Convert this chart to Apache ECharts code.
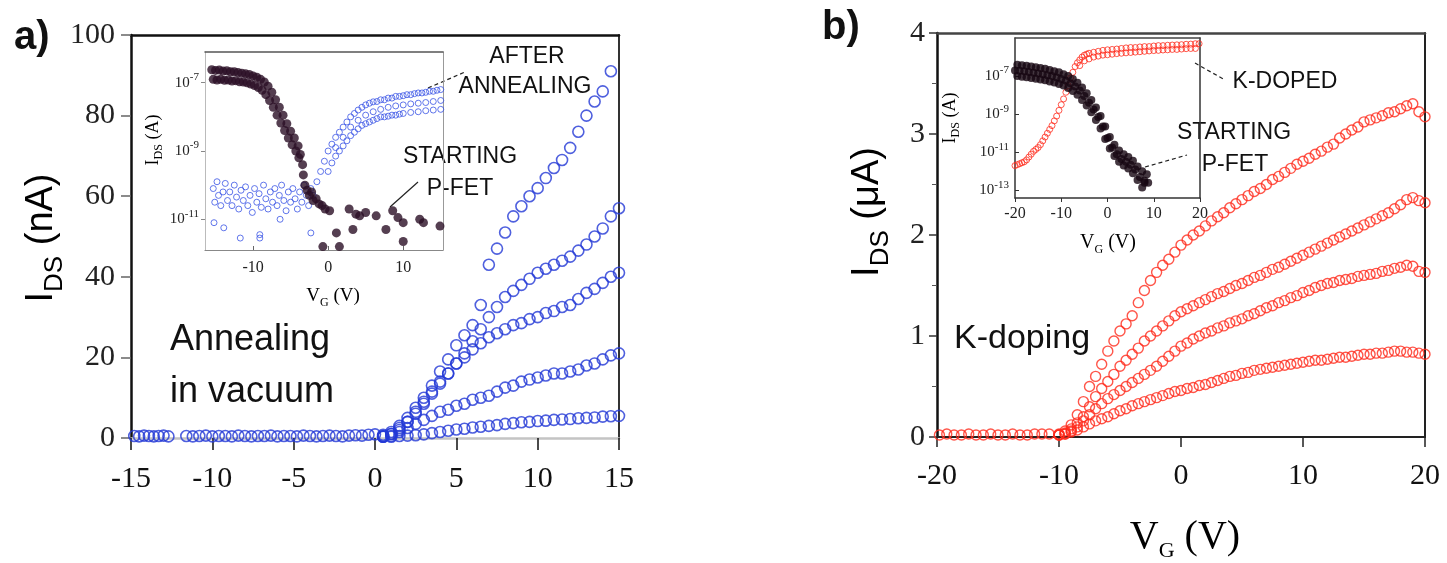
<!DOCTYPE html>
<html>
<head>
<meta charset="utf-8">
<script src="https://cdn.jsdelivr.net/npm/echarts@6/dist/echarts.min.js"></script>
<style>
  html, body { margin: 0; padding: 0; background: #fff; }
  #chart { width: 1447px; height: 563px; }
</style>
</head>
<body>
<div id="chart"></div>
<script>
// ---- panel a: annealing in vacuum (main plot, nA) ----
const vgFlatA = [-14.8,-14.5,-14.2,-13.9,-13.6,-13.3,-13.0,-12.7,-11.6,-11.2,-10.8,-10.4,-10.0,-9.6,-9.2,-8.8,-8.4,-8.0,-7.6,-7.2,-6.8,-6.4,-6.0,-5.6,-5.2,-4.8,-4.4,-4.0,-3.6,-3.2,-2.8,-2.4,-2.0,-1.6,-1.2,-0.8,-0.4,0];
const iFlatA  = [0.5,0.4,0.6,0.5,0.4,0.5,0.6,0.4,0.5,0.4,0.5,0.6,0.4,0.5,0.5,0.4,0.6,0.5,0.4,0.5,0.5,0.6,0.4,0.5,0.5,0.4,0.6,0.5,0.4,0.5,0.6,0.5,0.4,0.6,0.7,0.6,0.8,0.9];

const vgA = [0.5,1,1.5,2,2.5,3,3.5,4,4.5,5,5.5,6,6.5,7,7.5,8,8.5,9,9.5,10,10.5,11,11.5,12,12.5,13,13.5,14,14.5,15];
const iA1 = [0.8,1.5,3,5,7.5,10,13,16.5,19.5,23,25.5,28,33,43,47,51,55,57.5,60,62,64.5,67,69,72,76,80,83.5,86,91,null];
const iA2 = [0.5,1,2.5,4,6,8.5,11,13.5,16,18.5,21,24,27,30,32.5,35,36.5,38,39.5,41,42,43,44,45,46.5,48,50,52,55,57];
const iA3 = [0.4,1,2,4,6.5,9,11.5,14,16,18.5,20,22,23.5,25,26,27,28,28.5,29.5,30,31,31.5,32.5,33,34.5,36,37,38.5,40,41];
const iA4 = [0.3,0.5,1.5,2.5,3.5,4.5,5.5,6.5,7,8,8.5,9.5,10,10.5,11.5,12.5,13,14,14.5,15,15.5,16,16,16.5,17,18,18.5,19.5,20.5,21];
const iA5 = [0.3,0.3,0.5,0.6,0.7,0.9,1.2,1.5,1.8,2.1,2.3,2.6,2.8,3.0,3.2,3.5,3.7,3.9,4.0,4.2,4.3,4.5,4.6,4.7,4.9,5.0,5.1,5.3,5.4,5.5];

// ---- panel b: K-doping (main plot, uA) ----
const vgFlatB = [-19.8,-19.2,-18.6,-18.0,-17.4,-16.8,-16.2,-15.6,-15.0,-14.4,-13.8,-13.2,-12.6,-12.0,-11.4,-10.8];
const iFlatB  = [0.02,0.03,0.02,0.02,0.03,0.02,0.02,0.03,0.02,0.02,0.03,0.02,0.02,0.03,0.03,0.03];

const vgB = [-10,-9.5,-9,-8.5,-8,-7.5,-7,-6.5,-6,-5.5,-5,-4.5,-4,-3.5,-3,-2.5,-2,-1.5,-1,-0.5,
  0,0.5,1,1.5,2,2.5,3,3.5,4,4.5,5,5.5,6,6.5,7,7.5,8,8.5,9,9.5,
  10,10.5,11,11.5,12,12.5,13,13.5,14,14.5,15,15.5,16,16.5,17,17.5,18,18.5,19,19.5,20];
const iB1 = [0.03,0.06,0.12,0.22,0.35,0.5,0.6,0.72,0.85,0.95,1.05,1.12,1.2,1.33,1.45,1.55,1.63,1.7,1.76,1.83,
  1.9,1.95,2.0,2.04,2.09,2.14,2.18,2.22,2.27,2.31,2.35,2.39,2.43,2.46,2.5,2.55,2.58,2.62,2.66,2.7,
  2.73,2.76,2.8,2.83,2.87,2.9,2.96,3.0,3.04,3.07,3.12,3.14,3.16,3.18,3.21,3.22,3.25,3.28,3.3,3.22,3.17];
const iB2 = [0.02,0.04,0.08,0.14,0.2,0.3,0.4,0.48,0.55,0.62,0.7,0.76,0.82,0.88,0.95,1.0,1.05,1.1,1.15,1.2,
  1.24,1.27,1.3,1.33,1.36,1.39,1.42,1.44,1.47,1.5,1.52,1.55,1.58,1.6,1.63,1.66,1.68,1.71,1.74,1.77,
  1.8,1.83,1.86,1.89,1.92,1.95,1.98,2.01,2.04,2.07,2.1,2.13,2.16,2.19,2.22,2.26,2.3,2.35,2.37,2.34,2.32];
const iB3 = [0.02,0.03,0.06,0.1,0.16,0.22,0.28,0.33,0.38,0.42,0.46,0.5,0.54,0.58,0.62,0.66,0.7,0.75,0.8,0.85,
  0.9,0.93,0.97,1.0,1.03,1.05,1.08,1.1,1.13,1.15,1.17,1.2,1.22,1.25,1.28,1.3,1.33,1.35,1.38,1.4,
  1.43,1.45,1.48,1.5,1.52,1.53,1.55,1.56,1.57,1.59,1.6,1.61,1.62,1.64,1.65,1.67,1.68,1.7,1.69,1.64,1.63];
const iB4 = [0.02,0.03,0.05,0.07,0.1,0.13,0.16,0.18,0.2,0.23,0.26,0.28,0.31,0.33,0.35,0.37,0.39,0.41,0.43,0.45,
  0.46,0.48,0.49,0.51,0.52,0.54,0.56,0.58,0.6,0.61,0.63,0.64,0.66,0.67,0.68,0.69,0.7,0.71,0.72,0.73,
  0.74,0.75,0.76,0.76,0.77,0.78,0.79,0.79,0.8,0.81,0.82,0.82,0.83,0.83,0.84,0.85,0.85,0.84,0.84,0.83,0.82];

// ---- inset a: log10(I_DS / A) vs V_G ----
const insetAStart = [
  [-15.5,-6.62],[-15,-6.64],[-14.5,-6.63],[-14,-6.66],[-13.5,-6.65],[-13,-6.68],[-12.5,-6.68],[-12,-6.7],[-11.5,-6.72],[-11,-6.74],
  [-10.5,-6.76],[-10,-6.8],[-9.5,-6.84],[-9,-6.9],[-8.5,-6.98],[-8,-7.1],[-7.5,-7.28],[-7,-7.5],[-6.5,-7.72],[-6,-7.95],
  [-5.5,-8.2],[-5,-8.42],[-4.5,-8.62],[-4,-8.85],[-3.7,-9.1],[-3.4,-9.4],[-3.3,-9.7],[-3.1,-10.0],
  [-15.3,-6.9],[-14.8,-6.92],[-14.3,-6.9],[-13.8,-6.93],[-13.3,-6.92],[-12.8,-6.95],[-12.3,-6.94],[-11.8,-6.97],[-11.3,-6.98],[-10.8,-7.0],
  [-10.3,-7.04],[-9.8,-7.08],[-9.3,-7.14],[-8.8,-7.22],[-8.3,-7.35],[-7.8,-7.52],[-7.3,-7.72],[-6.8,-7.95],[-6.3,-8.18],[-5.8,-8.4],
  [-5.3,-8.62],[-4.8,-8.82],[-4.3,-9.0],[-3.9,-9.2],
  [-2.8,-10.15],[-2.5,-10.3],[-2.2,-10.2],[-2,-10.45],[-1.6,-10.4],[-1.2,-10.55],[-0.8,-10.6],[-0.4,-10.7],[0.2,-10.75],[-0.7,-11.8],
  [1.1,-11.4],[1.5,-11.8],[2.8,-10.7],[3.3,-11.3],[3.7,-10.85],[4.2,-10.9],[5,-10.8],[6.4,-10.9],[7.7,-11.3],[8.6,-10.75],
  [9.3,-10.95],[10,-11.1],[10,-11.65],[12.2,-11.0],[12.7,-11.1],[14.9,-11.2]
];
const insetAAnneal = [
  [-15.3,-10.1],[-15.1,-10.5],[-14.8,-9.9],[-14.6,-10.3],[-14.3,-10.6],[-14,-10.2],[-13.7,-9.95],[-13.4,-10.45],[-13.1,-10.2],[-12.8,-10.6],
  [-12.5,-10.0],[-12.2,-10.35],[-11.9,-10.7],[-11.6,-10.15],[-11.3,-10.45],[-11,-10.05],[-10.7,-10.6],[-10.4,-10.3],[-10.1,-10.8],[-9.8,-10.1],
  [-9.5,-10.5],[-9.2,-10.25],[-8.9,-10.65],[-8.6,-10.0],[-8.3,-10.4],[-8,-10.7],[-7.7,-10.2],[-7.4,-10.5],[-7.1,-10.1],[-6.8,-10.6],
  [-6.5,-10.3],[-6.2,-10.0],[-5.9,-10.45],[-5.6,-10.75],[-5.3,-10.2],[-5,-10.5],[-4.7,-10.1],[-4.4,-10.4],[-4.1,-10.7],[-3.8,-10.2],
  [-3.5,-10.5],[-3.2,-10.0],[-2.9,-10.3],[-2.6,-10.6],[-2.3,-10.1],
  [-15.2,-11.1],[-13.9,-11.25],[-11.7,-11.55],[-9.1,-11.55],[-9.1,-11.45],[-2.3,-11.4],[-6.4,-11.0],
  [-2,-10.3],[-1.5,-9.9],[-1,-9.6],[-0.5,-9.3],[0,-9.0],[0.5,-8.8],[1,-8.6],[1.5,-8.45],[2,-8.3],[2.5,-8.15],
  [3,-8.0],[3.5,-7.9],[4,-7.8],[4.5,-7.72],[5,-7.65],[5.5,-7.6],[6,-7.56],[6.5,-7.55],[7,-7.5],[7.5,-7.5],
  [8,-7.45],[8.5,-7.45],[9,-7.4],[9.5,-7.4],[10,-7.38],[10.5,-7.35],[11,-7.35],[11.5,-7.32],[12,-7.3],[12.5,-7.3],
  [13,-7.28],[13.5,-7.25],[14,-7.25],[14.5,-7.22],[15,-7.2],
  [0,-9.6],[0.5,-9.35],[1,-9.15],[1.5,-9.0],[2,-8.85],[2.5,-8.7],[3,-8.55],[3.5,-8.45],[4,-8.35],[4.5,-8.25],
  [5,-8.2],[5.5,-8.15],[6,-8.1],[6.5,-8.05],[7,-8.0],[7.5,-8.0],[8,-7.98],[8.5,-7.95],[9,-7.95],[9.5,-7.92],
  [10,-7.9],[11,-7.87],[12,-7.85],[13,-7.82],[14,-7.8],[15,-7.78],
  [1,-8.9],[2,-8.6],[3,-8.3],[4,-8.1],[5,-7.95],[6,-7.85],[7,-7.78],[8,-7.72],[9,-7.68],[10,-7.65],
  [11,-7.62],[12,-7.6],[13,-7.58],[14,-7.55],[15,-7.52]
];

// ---- inset b: log10(I_DS / A) vs V_G ----
const insetBStart = [
  [-20,-6.7],[-19,-6.72],[-18,-6.75],[-17,-6.78],[-16,-6.82],[-15,-6.86],[-14,-6.9],[-13,-6.95],[-12,-7.0],[-11,-7.08],
  [-10,-7.15],[-9,-7.25],[-8,-7.38],[-7,-7.55],[-6,-7.75],[-5,-8.05],[-4,-8.4],[-3,-8.75],[-2,-9.15],[-1,-9.65],
  [0,-10.25],[1,-10.75],[2,-11.1],[3,-11.35],[4,-11.5],[5,-11.65],[6,-11.9],[7,-12.3],[8,-12.5],[8.8,-12.6],
  [-19.5,-6.4],[-18.5,-6.43],[-17.5,-6.46],[-16.5,-6.5],[-15.5,-6.54],[-14.5,-6.58],[-13.5,-6.62],[-12.5,-6.68],[-11.5,-6.74],[-10.5,-6.8],
  [-9.5,-6.9],[-8.5,-7.0],[-7.5,-7.15],[-6.5,-7.35],[-5.5,-7.6],[-4.5,-7.9],[-3.5,-8.25],[-2.5,-8.65],[-1.5,-9.1],[-0.5,-9.65],
  [0.5,-10.2],[1.5,-10.6],[2.5,-10.9],[3.5,-11.1],[4.5,-11.25],[5.5,-11.45],[6.5,-11.75],[7.5,-12.0],[8.5,-12.15],
  [-19.5,-7.0],[-18.5,-7.03],[-17.5,-7.06],[-16.5,-7.1],[-15.5,-7.14],[-14.5,-7.18],[-13.5,-7.22],[-12.5,-7.28],[-11.5,-7.34],[-10.5,-7.42],
  [-9.5,-7.5],[-8.5,-7.62],[-7.5,-7.78],[-6.5,-7.98],[-5.5,-8.25],[-4.5,-8.55],[-3.5,-8.9],[-2.5,-9.3],[-1.5,-9.75],[-0.5,-10.3],
  [0.5,-10.8],[1.5,-11.2],[2.5,-11.5],[3.5,-11.7],[4.5,-11.85],[5.5,-12.1],[6.5,-12.45],[7.5,-12.85],[8,-12.6]
];
const insetBDoped = [
  [-20,-11.7],[-19.5,-11.65],[-19,-11.6],[-18.5,-11.55],[-18,-11.5],[-17.5,-11.4],[-17,-11.25],[-16.5,-11.1],[-16,-10.95],[-15.5,-10.85],
  [-15,-10.75],[-14.5,-10.6],[-14,-10.4],[-13.5,-10.2],[-13,-10.0],[-12.5,-9.8],[-12,-9.6],[-11.5,-9.35],[-11,-9.1],[-10.5,-8.8],
  [-10,-8.5],[-9.5,-8.2],[-9,-7.85],[-8.5,-7.5],[-8,-7.1],[-7.5,-6.8],[-7,-6.5],[-6.5,-6.3],[-6,-6.15],[-5.5,-6.0],
  [-5,-5.9],[-4.5,-5.85],[-4,-5.8],[-3,-5.75],[-2,-5.7],[-1,-5.65],[0,-5.62],[1,-5.6],[2,-5.58],[3,-5.55],
  [4,-5.52],[5,-5.5],[6,-5.5],[7,-5.47],[8,-5.45],[9,-5.45],[10,-5.42],[11,-5.4],[12,-5.4],[13,-5.38],
  [14,-5.37],[15,-5.36],[16,-5.35],[17,-5.33],[18,-5.32],[19,-5.3],[19.8,-5.3],
  [-6,-6.45],[-5,-6.2],[-4,-6.1],[-3,-6.0],[-2,-5.95],[-1,-5.9],[0,-5.88],[1,-5.85],[2,-5.82],[3,-5.8],
  [4,-5.78],[5,-5.76],[6,-5.74],[7,-5.72],[8,-5.7],[9,-5.68],[10,-5.66],[11,-5.65],[12,-5.63],[13,-5.62],
  [14,-5.6],[15,-5.6],[16,-5.58],[17,-5.56],[18,-5.55],[19,-5.55]
];

const insetTicksA = [-11, -9, -7];
const insetTicksB = [-13, -11, -9, -7];

const BLUE = '#2338d6';
const RED = '#ff2b1c';
const DARK = '#2a0f25';
const SERIF = 'Liberation Serif';
const SANS = 'Liberation Sans';

function pairs(xs, ys) {
  const out = [];
  xs.forEach((x, i) => {
    if (ys[i] !== null && ys[i] !== undefined) out.push([x, ys[i]]);
  });
  return out;
}

function openCircles(name, data, color, size, xi, yi, bw) {
  return {
    name: name, type: 'scatter', xAxisIndex: xi, yAxisIndex: yi,
    data: data, symbol: 'circle', symbolSize: size, silent: true,
    itemStyle: { color: 'rgba(0,0,0,0)', borderColor: color, borderWidth: bw }
  };
}

function helperAxis(grid, pos, color, width) {
  return {
    type: 'value', gridIndex: grid, position: pos, min: 0, max: 1,
    axisLine: { show: true, onZero: false, lineStyle: { color: color, width: width } },
    axisTick: { show: false }, axisLabel: { show: false }, splitLine: { show: false }
  };
}

const supRich = {
  b: { fontFamily: SERIF, fontSize: 15, color: '#222', lineHeight: 22 },
  s: { fontFamily: SERIF, fontSize: 11, color: '#222', lineHeight: 11, verticalAlign: 'top' }
};
const logFmt = v => '{b|10}{s|' + v + '}';

const chart = echarts.init(document.getElementById('chart'));

const option = {
  backgroundColor: '#fff',
  animation: false,
  grid: [
    { left: 131, top: 35, width: 488, height: 403, outerBoundsMode: 'none' },
    { left: 937, top: 33, width: 488, height: 404, outerBoundsMode: 'none' },
    { left: 205, top: 52, width: 238, height: 198, outerBoundsMode: 'none' },
    { left: 1015, top: 38, width: 185, height: 160, outerBoundsMode: 'none' }
  ],
  xAxis: [
    {
      type: 'value', gridIndex: 0, min: -15, max: 15, interval: 5,
      axisLine: { onZero: false, lineStyle: { color: '#c4c4c4', width: 2.5 } },
      axisTick: { length: 12, lineStyle: { color: '#111', width: 1.5 } },
      axisLabel: { fontFamily: SERIF, fontSize: 30, color: '#111', margin: 26 },
      splitLine: { show: false }
    },
    helperAxis(0, 'top', '#111', 2.5),
    {
      type: 'value', gridIndex: 1, min: -20, max: 20, interval: 10,
      axisLine: { onZero: false, lineStyle: { color: '#222', width: 2 } },
      axisTick: { length: 10, lineStyle: { color: '#222', width: 1.5 } },
      axisLabel: { fontFamily: SERIF, fontSize: 30, color: '#111', margin: 24 },
      splitLine: { show: false }
    },
    helperAxis(1, 'top', '#444', 2.5),
    {
      type: 'value', gridIndex: 2, min: -16.4, max: 15.3,
      axisLine: { onZero: false, lineStyle: { color: '#888', width: 1.2 } },
      axisTick: { inside: true, length: 4, customValues: [-10, 0, 10], lineStyle: { color: '#666' } },
      axisLabel: { fontFamily: SERIF, fontSize: 16, color: '#222', margin: 10, customValues: [-10, 0, 10] },
      splitLine: { show: false }
    },
    helperAxis(2, 'top', '#555', 1.5),
    {
      type: 'value', gridIndex: 3, min: -20, max: 20, interval: 10,
      axisLine: { onZero: false, lineStyle: { color: '#333', width: 1.5 } },
      axisTick: { length: 4, lineStyle: { color: '#333' } },
      axisLabel: { fontFamily: SERIF, fontSize: 16, color: '#222', margin: 8 },
      splitLine: { show: false }
    },
    helperAxis(3, 'top', '#444', 1.5)
  ],
  yAxis: [
    {
      type: 'value', gridIndex: 0, min: 0, max: 100, interval: 20,
      axisLine: { onZero: false, lineStyle: { color: '#111', width: 2.5 } },
      axisTick: { length: 10, lineStyle: { color: '#666', width: 1.5 } },
      axisLabel: { fontFamily: SERIF, fontSize: 30, color: '#222', margin: 16 },
      splitLine: { show: false }
    },
    helperAxis(0, 'right', '#333', 2),
    {
      type: 'value', gridIndex: 1, min: 0, max: 4, interval: 1,
      axisLine: { onZero: false, lineStyle: { color: '#111', width: 2.5 } },
      axisTick: { length: 8, lineStyle: { color: '#333', width: 1.5 } },
      minorTick: { show: true, splitNumber: 2, length: 5, lineStyle: { color: '#555' } },
      axisLabel: { fontFamily: SERIF, fontSize: 30, color: '#222', margin: 12 },
      splitLine: { show: false }
    },
    helperAxis(1, 'right', '#222', 2),
    {
      type: 'value', gridIndex: 2, min: -11.9, max: -6.1,
      axisLine: { onZero: false, lineStyle: { color: '#bbb', width: 1 } },
      axisTick: { length: 4, customValues: insetTicksA, lineStyle: { color: '#888' } },
      axisLabel: { margin: 6, customValues: insetTicksA, formatter: logFmt, rich: supRich },
      splitLine: { show: false }
    },
    helperAxis(2, 'right', '#999', 1),
    {
      type: 'value', gridIndex: 3, min: -13.4, max: -5,
      axisLine: { onZero: false, lineStyle: { color: '#333', width: 1.5 } },
      axisTick: { inside: true, length: 4, customValues: insetTicksB, lineStyle: { color: '#333' } },
      axisLabel: { margin: 6, customValues: insetTicksB, formatter: logFmt, rich: supRich },
      splitLine: { show: false }
    },
    helperAxis(3, 'right', '#333', 1.5)
  ],
  series: [
    openCircles('flatA', pairs(vgFlatA, iFlatA), BLUE, 11, 0, 0, 1.6),
    openCircles('a1', pairs(vgA, iA1), BLUE, 11, 0, 0, 1.6),
    openCircles('a2', pairs(vgA, iA2), BLUE, 11, 0, 0, 1.6),
    openCircles('a3', pairs(vgA, iA3), BLUE, 11, 0, 0, 1.6),
    openCircles('a4', pairs(vgA, iA4), BLUE, 11, 0, 0, 1.6),
    openCircles('a5', pairs(vgA, iA5), BLUE, 11, 0, 0, 1.6),
    openCircles('flatB', pairs(vgFlatB, iFlatB), RED, 10, 2, 2, 1.4),
    openCircles('b1', pairs(vgB, iB1), RED, 10, 2, 2, 1.4),
    openCircles('b2', pairs(vgB, iB2), RED, 10, 2, 2, 1.4),
    openCircles('b3', pairs(vgB, iB3), RED, 10, 2, 2, 1.4),
    openCircles('b4', pairs(vgB, iB4), RED, 10, 2, 2, 1.4),
    openCircles('insetAAnneal', insetAAnneal, '#3b55e6', 6, 4, 4, 1),
    {
      name: 'insetAStart', type: 'scatter', xAxisIndex: 4, yAxisIndex: 4, silent: true,
      data: insetAStart, symbol: 'circle', symbolSize: 9, itemStyle: { color: DARK }
    },
    openCircles('insetBDoped', insetBDoped, RED, 6, 6, 6, 1),
    {
      name: 'insetBStart', type: 'scatter', xAxisIndex: 6, yAxisIndex: 6, silent: true,
      data: insetBStart, symbol: 'circle', symbolSize: 8, itemStyle: { color: '#150510' }
    }
  ],
  graphic: [
    // panel letters
    { type: 'text', x: 14, y: 18, style: { text: 'a)', font: 'bold 40px ' + SANS, fill: '#111' } },
    { type: 'text', x: 822, y: 8, style: { text: 'b)', font: 'bold 40px ' + SANS, fill: '#111' } },
    // main y titles
    {
      type: 'text', x: 42, y: 238, rotation: Math.PI / 2,
      style: {
        text: '{m|I}{s|DS}{m| (nA)}', align: 'center', verticalAlign: 'middle',
        rich: {
          m: { fontFamily: SANS, fontSize: 38, color: '#111', lineHeight: 52 },
          s: { fontFamily: SANS, fontSize: 26, color: '#111', lineHeight: 26, verticalAlign: 'bottom' }
        }
      }
    },
    {
      type: 'text', x: 868, y: 212, rotation: Math.PI / 2,
      style: {
        text: '{m|I}{s|DS}{m| (\u03bcA)}', align: 'center', verticalAlign: 'middle',
        rich: {
          m: { fontFamily: SANS, fontSize: 38, color: '#111', lineHeight: 52 },
          s: { fontFamily: SANS, fontSize: 26, color: '#111', lineHeight: 26, verticalAlign: 'bottom' }
        }
      }
    },
    // main x title for b
    {
      type: 'text', x: 1185, y: 537,
      style: {
        text: '{m|V}{s|G}{m| (V)}', align: 'center', verticalAlign: 'middle',
        rich: {
          m: { fontFamily: SERIF, fontSize: 40, color: '#111', lineHeight: 50 },
          s: { fontFamily: SERIF, fontSize: 22, color: '#111', lineHeight: 22, verticalAlign: 'bottom' }
        }
      }
    },
    // inset axis titles
    {
      type: 'text', x: 153, y: 140, rotation: Math.PI / 2,
      style: {
        text: '{m|I}{s|DS}{m| (A)}', align: 'center', verticalAlign: 'middle',
        rich: {
          m: { fontFamily: SERIF, fontSize: 18, color: '#222', lineHeight: 24 },
          s: { fontFamily: SERIF, fontSize: 12, color: '#222', lineHeight: 12, verticalAlign: 'bottom' }
        }
      }
    },
    {
      type: 'text', x: 333, y: 296,
      style: {
        text: '{m|V}{s|G}{m| (V)}', align: 'center', verticalAlign: 'middle',
        rich: {
          m: { fontFamily: SERIF, fontSize: 19, color: '#222', lineHeight: 26 },
          s: { fontFamily: SERIF, fontSize: 12, color: '#222', lineHeight: 12, verticalAlign: 'bottom' }
        }
      }
    },
    {
      type: 'text', x: 950, y: 118, rotation: Math.PI / 2,
      style: {
        text: '{m|I}{s|DS}{m| (A)}', align: 'center', verticalAlign: 'middle',
        rich: {
          m: { fontFamily: SERIF, fontSize: 18, color: '#222', lineHeight: 24 },
          s: { fontFamily: SERIF, fontSize: 12, color: '#222', lineHeight: 12, verticalAlign: 'bottom' }
        }
      }
    },
    {
      type: 'text', x: 1108, y: 243,
      style: {
        text: '{m|V}{s|G}{m| (V)}', align: 'center', verticalAlign: 'middle',
        rich: {
          m: { fontFamily: SERIF, fontSize: 20, color: '#222', lineHeight: 26 },
          s: { fontFamily: SERIF, fontSize: 12, color: '#222', lineHeight: 12, verticalAlign: 'bottom' }
        }
      }
    },
    // in-plot labels
    { type: 'text', x: 170, y: 322, style: { text: 'Annealing', font: '36px ' + SANS, fill: '#111' } },
    { type: 'text', x: 170, y: 374, style: { text: 'in vacuum', font: '36px ' + SANS, fill: '#111' } },
    { type: 'text', x: 954, y: 322, style: { text: 'K-doping', font: '34px ' + SANS, fill: '#111' } },
    // inset annotations
    { type: 'text', x: 527, y: 57, style: { text: 'AFTER', font: '23px ' + SANS, fill: '#111', align: 'center', verticalAlign: 'middle' } },
    { type: 'text', x: 525, y: 87, style: { text: 'ANNEALING', font: '23px ' + SANS, fill: '#111', align: 'center', verticalAlign: 'middle' } },
    { type: 'text', x: 460, y: 157, style: { text: 'STARTING', font: '23px ' + SANS, fill: '#111', align: 'center', verticalAlign: 'middle' } },
    { type: 'text', x: 460, y: 189, style: { text: 'P-FET', font: '23px ' + SANS, fill: '#111', align: 'center', verticalAlign: 'middle' } },
    { type: 'text', x: 1285, y: 82, style: { text: 'K-DOPED', font: '23px ' + SANS, fill: '#111', align: 'center', verticalAlign: 'middle' } },
    { type: 'text', x: 1234, y: 133, style: { text: 'STARTING', font: '23px ' + SANS, fill: '#111', align: 'center', verticalAlign: 'middle' } },
    { type: 'text', x: 1235, y: 165, style: { text: 'P-FET', font: '23px ' + SANS, fill: '#111', align: 'center', verticalAlign: 'middle' } },
    { type: 'line', shape: { x1: 428, y1: 88, x2: 465, y2: 72 }, style: { stroke: '#222', lineWidth: 1.2, lineDash: [4, 3] } },
    { type: 'line', shape: { x1: 390, y1: 207, x2: 418, y2: 182 }, style: { stroke: '#222', lineWidth: 1.2 } },
    { type: 'line', shape: { x1: 1195, y1: 63, x2: 1225, y2: 80 }, style: { stroke: '#222', lineWidth: 1.2, lineDash: [4, 3] } },
    { type: 'line', shape: { x1: 1145, y1: 167, x2: 1187, y2: 155 }, style: { stroke: '#222', lineWidth: 1.2, lineDash: [4, 3] } }
  ]
};

chart.setOption(option);
</script>
</body>
</html>
